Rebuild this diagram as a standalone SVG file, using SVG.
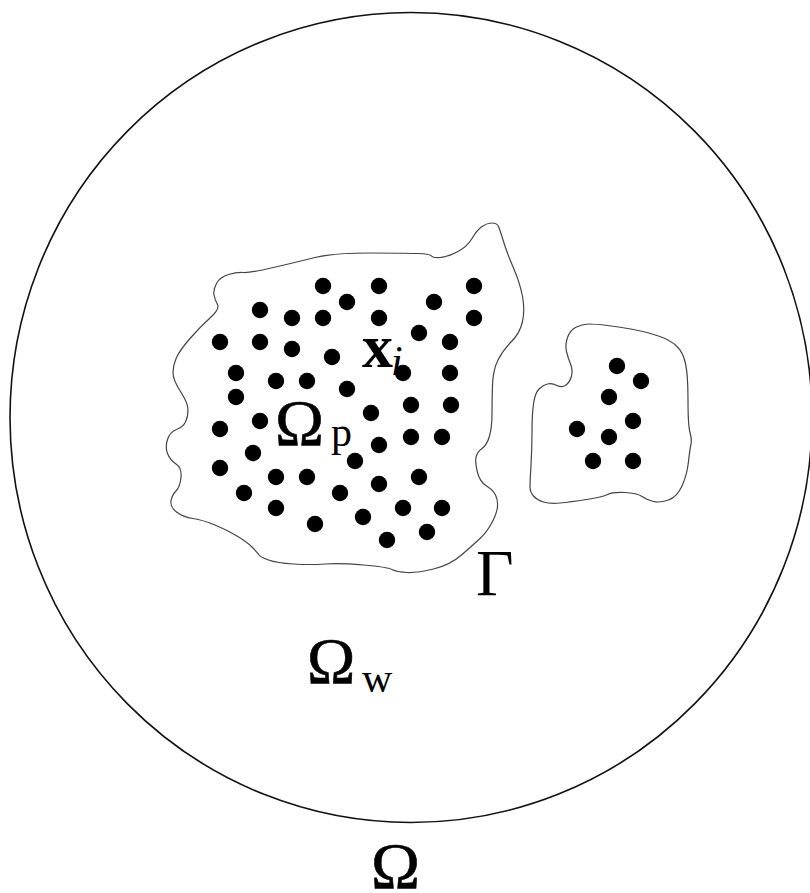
<svg xmlns="http://www.w3.org/2000/svg" width="810" height="893" viewBox="0 0 810 893">
<style>
.dom{fill:none;stroke:#111;stroke-width:1.6}
.blob{fill:#fff;stroke:#444;stroke-width:1.2;stroke-linejoin:round}
.pt{fill:#000}
.lbl{font-family:"Liberation Serif","Times New Roman",serif;fill:#000}
</style>
<defs><circle id="d" r="8.2" class="pt"/></defs>
<rect width="810" height="893" fill="#fff"/>
<g id="domain">
<ellipse class="dom" cx="411" cy="417.5" rx="401" ry="405"/>
</g>
<g id="particle-region-1">
<path class="blob" d="M216.5,283.5 Q220,277 228.5,274.5 Q237,272 243.5,272.5 Q250,273 273.5,267.5 Q297,262 315,257.5 Q333,253 370,253 Q407,253 418.5,253.5 Q430,254 431.5,256 Q433,258 440,257.5 Q447,257 457,252 Q467,247 472,238.5 Q477,230 482,226.5 Q487,223 492,223 Q497,223 498.5,226.5 Q500,230 503.5,241.5 Q507,253 513.5,268 Q520,283 522.5,296.5 Q525,310 522.5,321.5 Q520,333 511.5,341.5 Q503,350 498,360 Q493,370 492.5,385 Q492,400 492,413.5 Q492,427 489.5,436 Q487,445 482,448.5 Q477,452 476,457.5 Q475,463 477.5,472.5 Q480,482 486.5,486 Q493,490 495.5,495 Q498,500 497.5,506.5 Q497,513 492,522.5 Q487,532 480,538.5 Q473,545 461.5,555 Q450,565 433.5,569 Q417,573 407,572.5 Q397,572 392,569.5 Q387,567 363.5,565 Q340,563 325,564 Q310,565 293.5,564 Q277,563 268.5,560 Q260,557 258.5,554.5 Q257,552 252,547 Q247,542 237,536 Q227,530 215,525 Q203,520 193,518.5 Q183,517 176.5,512 Q170,507 171,501 Q172,495 176,491 Q180,487 181,477.5 Q182,468 176,464 Q170,460 167.5,453.5 Q165,447 167.5,439.5 Q170,432 176.5,429.5 Q183,427 185.5,422 Q188,417 188,410 Q188,403 180.5,391.5 Q173,380 173,372.5 Q173,365 176.5,357.5 Q180,350 190,338.5 Q200,327 210,318 Q220,309 217.5,304.5 Q215,300 214,295 Q213,290 216.5,283.5 Z"/>
<g id="particles-1">
<use href="#d" x="323" y="286"/><use href="#d" x="379" y="286"/><use href="#d" x="474" y="286"/>
<use href="#d" x="347" y="302"/><use href="#d" x="434" y="302"/><use href="#d" x="260" y="310"/>
<use href="#d" x="292" y="318"/><use href="#d" x="323" y="318"/><use href="#d" x="379" y="318"/>
<use href="#d" x="474" y="318"/><use href="#d" x="419" y="333"/><use href="#d" x="220" y="342"/>
<use href="#d" x="260" y="342"/><use href="#d" x="450" y="342"/><use href="#d" x="292" y="349"/>
<use href="#d" x="332" y="357"/><use href="#d" x="236" y="373"/><use href="#d" x="403" y="373"/>
<use href="#d" x="450" y="373"/><use href="#d" x="276" y="381"/><use href="#d" x="307" y="381"/>
<use href="#d" x="347" y="389"/><use href="#d" x="236" y="397"/><use href="#d" x="411" y="405"/>
<use href="#d" x="451" y="405"/><use href="#d" x="371" y="413"/><use href="#d" x="260" y="421"/>
<use href="#d" x="220" y="429"/><use href="#d" x="411" y="437"/><use href="#d" x="442" y="437"/>
<use href="#d" x="379" y="445"/><use href="#d" x="253" y="453"/><use href="#d" x="355" y="461"/>
<use href="#d" x="220" y="468"/><use href="#d" x="276" y="477"/><use href="#d" x="307" y="477"/>
<use href="#d" x="419" y="477"/><use href="#d" x="379" y="484"/><use href="#d" x="244" y="493"/>
<use href="#d" x="340" y="493"/><use href="#d" x="276" y="508"/><use href="#d" x="403" y="508"/>
<use href="#d" x="442" y="508"/><use href="#d" x="315" y="524"/><use href="#d" x="363" y="517"/>
<use href="#d" x="427" y="532"/><use href="#d" x="387" y="540"/>
</g>
</g>
<g id="particle-region-2">
<path class="blob" d="M589,324 Q583,324 576.5,327 Q570,330 567.5,337.5 Q565,345 566.5,351.5 Q568,358 570.5,364 Q573,370 571.5,376 Q570,382 566,385 Q562,388 557,385.5 Q552,383 547.5,384 Q543,385 539,389 Q535,393 533.5,404 Q532,415 532,431.5 Q532,448 531,465 Q530,482 530,487 Q530,492 533.5,496 Q537,500 543.5,502 Q550,504 560,503 Q570,502 586.5,499.5 Q603,497 607.5,494.5 Q612,492 624.5,492.5 Q637,493 642,496.5 Q647,500 653.5,501.5 Q660,503 668.5,500 Q677,497 682,486 Q687,475 688.5,461.5 Q690,448 691,444 Q692,440 690,432.5 Q688,425 688,400 Q688,375 685.5,363.5 Q683,352 676.5,346 Q670,340 658.5,336 Q647,332 633.5,329.5 Q620,327 607.5,325.5 Q595,324 589,324 Z"/>
<g id="particles-2">
<use href="#d" x="617" y="366"/><use href="#d" x="641" y="381"/><use href="#d" x="609" y="397"/>
<use href="#d" x="633" y="421"/><use href="#d" x="577" y="429"/><use href="#d" x="609" y="437"/>
<use href="#d" x="593" y="461"/><use href="#d" x="633" y="461"/>
</g>
</g>
<g id="labels">
<text class="lbl" x="362" y="367" font-size="62" font-weight="bold">x</text>
<text class="lbl" x="391" y="375" font-size="42" font-style="italic">i</text>
<text class="lbl" x="275" y="445" font-size="66" stroke="#000" stroke-width="0.6">Ω</text>
<text class="lbl" x="331" y="446" font-size="42">p</text>
<text class="lbl" x="476" y="595" font-size="65">Γ</text>
<text class="lbl" x="307" y="683" font-size="65" stroke="#000" stroke-width="0.6">Ω</text>
<text class="lbl" x="362" y="692" font-size="42">w</text>
<text class="lbl" x="371" y="888" font-size="66" stroke="#000" stroke-width="0.6">Ω</text>
</g>
</svg>
